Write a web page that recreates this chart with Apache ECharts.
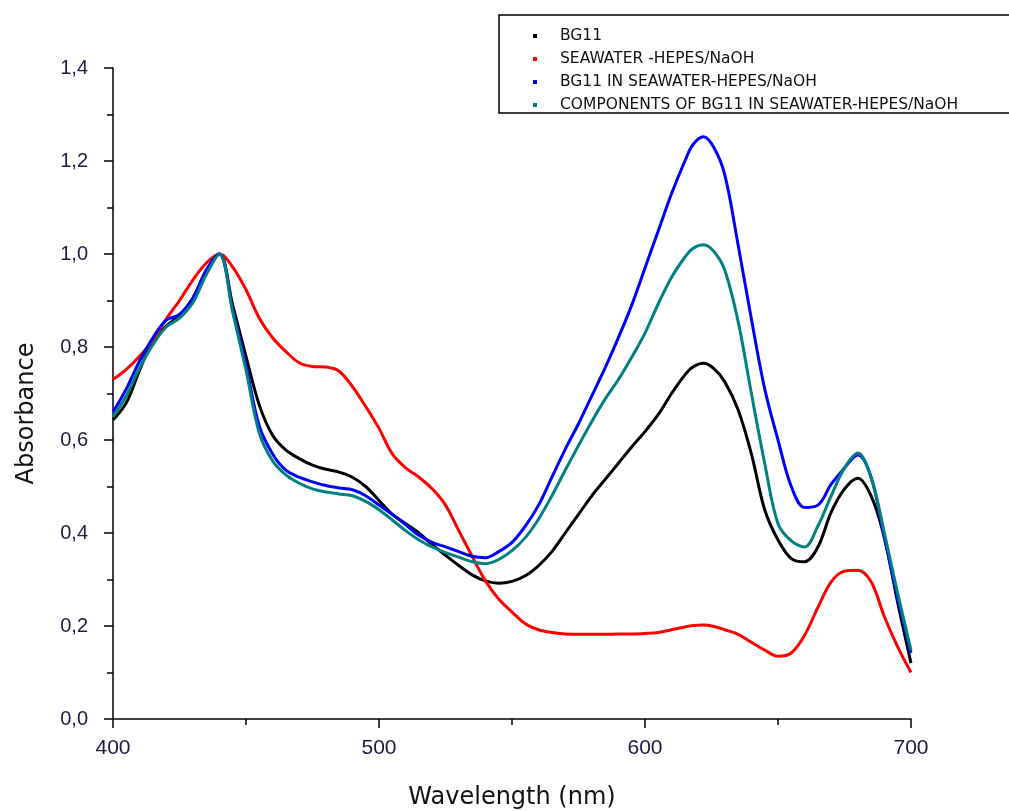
<!DOCTYPE html>
<html>
<head>
<meta charset="utf-8">
<script src="https://cdn.jsdelivr.net/npm/echarts@6/dist/echarts.min.js"></script>
<style>html,body{margin:0;padding:0;background:#fff}#c{width:1009px;height:811px}</style>
</head>
<body>
<div id="c"></div>
<script>
const wavelengths = [400,405,410,415,420,425,430,435,440,445,450,455,460,465,470,475,480,485,490,495,500,505,510,515,520,525,530,535,540,545,550,555,560,565,570,575,580,585,590,595,600,605,610,615,618,622,626,630,635,640,645,650,655,660,665,670,675,680,685,690,695,700];
const seriesNames = ['BG11','SEAWATER -HEPES/NaOH','BG11 IN SEAWATER-HEPES/NaOH','COMPONENTS OF BG11 IN SEAWATER-HEPES/NaOH'];
const bg11 = [0.643,0.68,0.75,0.815,0.845,0.868,0.905,0.96,1.0,0.89,0.78,0.675,0.61,0.578,0.56,0.546,0.537,0.531,0.52,0.50,0.47,0.44,0.42,0.40,0.375,0.352,0.33,0.31,0.297,0.292,0.296,0.308,0.33,0.36,0.40,0.44,0.48,0.515,0.55,0.585,0.618,0.655,0.70,0.74,0.757,0.765,0.753,0.725,0.665,0.57,0.45,0.385,0.345,0.338,0.37,0.445,0.495,0.518,0.48,0.39,0.25,0.12];
const seawater = [0.73,0.752,0.78,0.815,0.86,0.9,0.944,0.98,1.0,0.972,0.923,0.862,0.82,0.79,0.766,0.758,0.757,0.748,0.715,0.672,0.625,0.57,0.54,0.52,0.495,0.46,0.405,0.35,0.297,0.258,0.23,0.205,0.192,0.186,0.183,0.182,0.182,0.182,0.183,0.183,0.184,0.186,0.192,0.198,0.201,0.202,0.199,0.192,0.182,0.165,0.148,0.135,0.142,0.18,0.24,0.295,0.318,0.32,0.295,0.22,0.155,0.1];
const bg11InSeawater = [0.66,0.71,0.77,0.82,0.858,0.87,0.905,0.965,1.0,0.88,0.76,0.63,0.57,0.535,0.52,0.51,0.502,0.497,0.493,0.48,0.46,0.44,0.418,0.395,0.38,0.37,0.36,0.35,0.347,0.36,0.38,0.415,0.46,0.52,0.58,0.635,0.695,0.755,0.82,0.89,0.97,1.05,1.13,1.2,1.235,1.252,1.228,1.17,1.02,0.86,0.71,0.6,0.5,0.455,0.46,0.505,0.54,0.568,0.52,0.39,0.26,0.142];
const components = [0.65,0.695,0.755,0.805,0.843,0.862,0.895,0.955,1.0,0.875,0.75,0.615,0.555,0.525,0.507,0.495,0.488,0.484,0.48,0.468,0.45,0.428,0.405,0.385,0.37,0.358,0.348,0.338,0.334,0.343,0.362,0.39,0.43,0.48,0.535,0.588,0.64,0.688,0.73,0.778,0.83,0.893,0.95,0.993,1.012,1.02,1.005,0.965,0.855,0.7,0.55,0.42,0.383,0.37,0.415,0.48,0.54,0.572,0.52,0.40,0.27,0.148];
const colors = ['#000000','#ff0000','#0000ff','#008080'];
const allValues = [bg11, seawater, bg11InSeawater, components];

const chart = echarts.init(document.getElementById('c'), null, {renderer:'canvas'});
const sans = 'Liberation Sans, Arial, sans-serif';
const wide = 'DejaVu Sans, Verdana, sans-serif';
chart.setOption({
  animation: false,
  backgroundColor: '#ffffff',
  grid: {left: 113, right: 98, top: 68, bottom: 92, containLabel: false, outerBoundsMode: 'none'},
  legend: {
    orient: 'vertical',
    left: 528, top: 23,
    icon: 'rect',
    itemWidth: 4, itemHeight: 4,
    itemGap: 7,
    data: seriesNames,
    textStyle: {fontFamily: wide, fontSize: 15.5, color: '#111', lineHeight: 14, padding: [0,0,0,18]}
  },
  graphic: [{
    type: 'rect', shape: {x: 499, y: 15, width: 530, height: 98},
    style: {fill: 'none', stroke: '#000', lineWidth: 1.5}, z: 10
  }],
  xAxis: {
    type: 'value', min: 400, max: 700, interval: 100,
    name: 'Wavelength (nm)', nameLocation: 'middle', nameGap: 67,
    nameTextStyle: {fontFamily: wide, fontSize: 24, color: '#111'},
    axisLine: {show: true, lineStyle: {color: '#000', width: 1.5}},
    axisTick: {show: true, inside: false, length: 9, lineStyle: {color: '#000', width: 1.5}},
    minorTick: {show: true, splitNumber: 2, length: 6, lineStyle: {color: '#000', width: 1.5}},
    axisLabel: {fontFamily: sans, fontSize: 21, color: '#1c1c40', margin: 19},
    splitLine: {show: false}
  },
  yAxis: {
    type: 'value', min: 0, max: 1.4, interval: 0.2,
    name: 'Absorbance', nameLocation: 'middle', nameGap: 74, nameRotate: 90,
    nameTextStyle: {fontFamily: wide, fontSize: 24, color: '#111', padding: [0, 40, 0, 0]},
    axisLine: {show: true, lineStyle: {color: '#000', width: 1.5}},
    axisTick: {show: true, inside: false, length: 9, lineStyle: {color: '#000', width: 1.5}},
    minorTick: {show: true, splitNumber: 2, length: 6, lineStyle: {color: '#000', width: 1.5}},
    axisLabel: {fontFamily: sans, fontSize: 20, color: '#1c1c40', margin: 25,
      formatter: v => v.toFixed(1).replace('.', ',')},
    splitLine: {show: false}
  },
  series: seriesNames.map((n, i) => ({
    name: n, type: 'line', smooth: 0.35, symbol: 'none', color: colors[i],
    lineStyle: {width: 3, color: colors[i]},
    data: wavelengths.map((w, k) => [w, allValues[i][k]])
  }))
});
</script>
</body>
</html>
